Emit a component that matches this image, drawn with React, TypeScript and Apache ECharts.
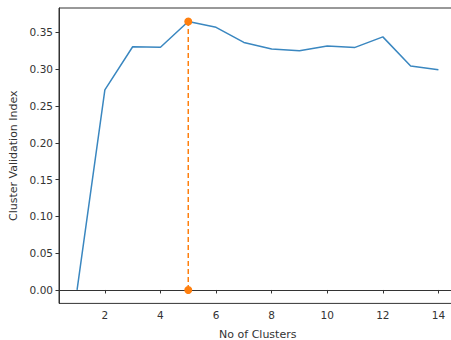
import React, { useEffect, useRef } from "react";
import * as echarts from "echarts";

const clusters = [1, 2, 3, 4, 5, 6, 7, 8, 9, 10, 11, 12, 13, 14];
const validationIndex = [0.0, 0.272, 0.3306, 0.33, 0.365, 0.357, 0.3365, 0.3274, 0.325, 0.3315, 0.3297, 0.344, 0.3043, 0.2993];
const bestK = 5;
const bestValue = 0.365;
const xTicks = [2, 4, 6, 8, 10, 12, 14];
const yTicks = [0, 0.05, 0.1, 0.15, 0.2, 0.25, 0.3, 0.35];

export default function App() {
  const ref = useRef<HTMLDivElement>(null);
  useEffect(() => {
    document.body.style.margin = "0";
    const chart = echarts.init(ref.current!, null, { renderer: "svg" });
    const font = "DejaVu Sans";
    chart.setOption({
      animation: false,
      backgroundColor: "#ffffff",
      grid: {
        left: 59,
        top: 8,
        width: 397.5,
        height: 295.4,
        outerBoundsMode: "none",
        containLabel: false,
        show: true,
        borderColor: "#333333",
        borderWidth: 1,
        backgroundColor: "transparent",
      },
      xAxis: {
        type: "value",
        min: 0.35,
        max: 14.65,
        name: "No of Clusters",
        nameLocation: "middle",
        nameGap: 26,
        nameTextStyle: { fontFamily: font, fontSize: 11, color: "#333333" },
        axisLine: { show: true, lineStyle: { color: "#333333", width: 1 } },
        axisTick: { show: true, length: 3.5, customValues: xTicks, lineStyle: { color: "#333333" } },
        axisLabel: { customValues: xTicks, fontFamily: font, fontSize: 10.5, color: "#333333", margin: 6 },
        splitLine: { show: false },
      },
      yAxis: {
        type: "value",
        min: -0.01825,
        max: 0.38325,
        name: "Cluster Validation Index",
        nameLocation: "middle",
        nameGap: 37,
        nameRotate: 90,
        nameTextStyle: { fontFamily: font, fontSize: 11, color: "#333333" },
        axisLine: { show: true, lineStyle: { color: "#333333", width: 1 } },
        axisTick: { show: true, length: 3.5, customValues: yTicks, lineStyle: { color: "#333333" } },
        axisLabel: {
          customValues: yTicks,
          fontFamily: font,
          fontSize: 10.5,
          color: "#333333",
          margin: 6,
          formatter: (v: number) => v.toFixed(2),
        },
        splitLine: { show: false },
      },
      series: [
        {
          type: "line",
          data: clusters.map((c, i) => [c, validationIndex[i]]),
          showSymbol: false,
          lineStyle: { color: "#3a87c0", width: 1.5 },
          itemStyle: { color: "#3a87c0" },
          z: 2,
        },
        {
          type: "line",
          data: [
            [bestK, 0],
            [bestK, bestValue],
          ],
          symbol: "circle",
          symbolSize: 8,
          showSymbol: true,
          lineStyle: { color: "#ff7f0e", width: 1.5, type: [5, 3] },
          itemStyle: { color: "#ff7f0e" },
          z: 3,
        },
      ],
    });
    return () => chart.dispose();
  }, []);
  return <div ref={ref} style={{ position: "absolute", left: 0, top: 0, width: 451, height: 340 }} />;
}
